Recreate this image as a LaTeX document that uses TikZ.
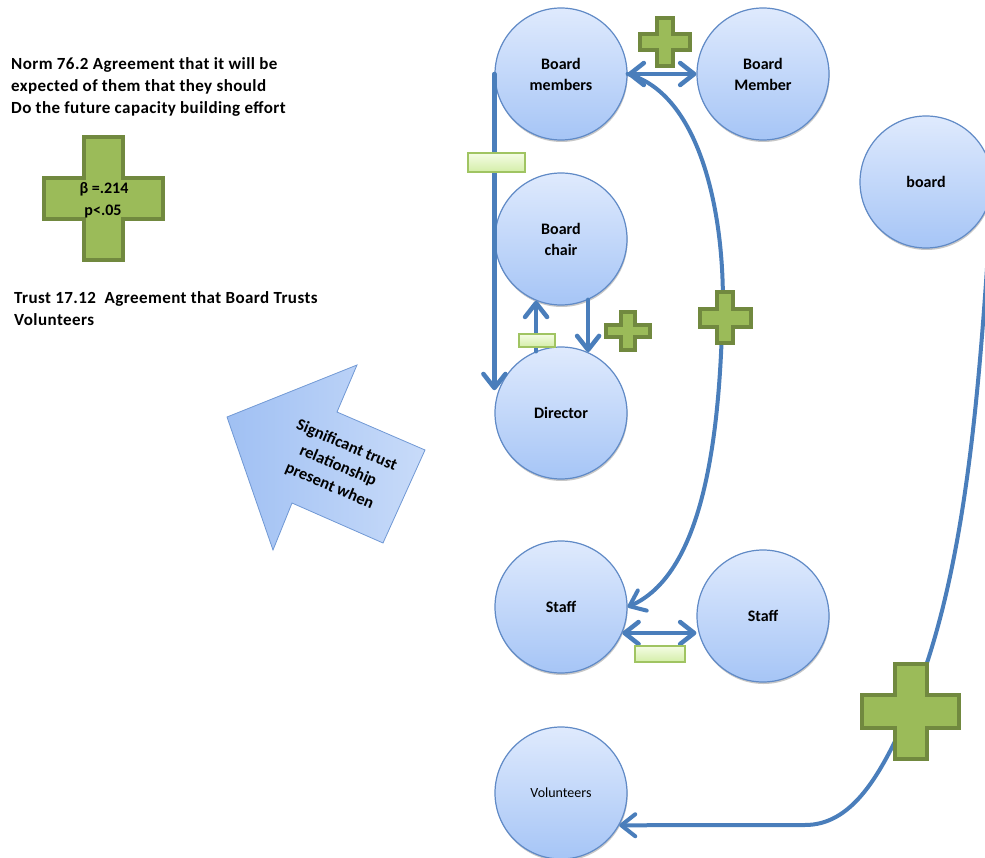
\documentclass[tikz,border=0pt]{standalone}
\usepackage{fontspec}
\setmainfont{Carlito}
\usetikzlibrary{arrows.meta,shadows}

\definecolor{linkblue}{RGB}{74,126,187}
\definecolor{bubtop}{RGB}{223,234,253}
\definecolor{bubbot}{RGB}{166,197,246}
\definecolor{bubedge}{RGB}{96,138,198}
\definecolor{plusfill}{RGB}{155,187,89}
\definecolor{plusedge}{RGB}{113,137,63}
\definecolor{minustop}{RGB}{244,252,228}
\definecolor{minusbot}{RGB}{212,238,168}
\definecolor{minusedge}{RGB}{160,196,98}
\definecolor{bigleft}{RGB}{160,192,243}
\definecolor{bigright}{RGB}{200,219,249}
\definecolor{bigedge}{RGB}{112,152,212}

\tikzset{
  actor/.style={circle, minimum size=132pt, inner sep=0pt, draw=bubedge, line width=1.2pt,
    top color=bubtop, bottom color=bubbot, align=center,
    font=\bfseries\fontsize{16}{21}\selectfont,
    drop shadow={shadow xshift=0.6pt, shadow yshift=-2pt, opacity=0.22, fill=black}},
  link/.style={draw=linkblue, line width=4.5pt, line cap=round},
  tipend/.style={arrows={-Straight Barb[round,length=14pt,width=22pt]}},
  tipboth/.style={arrows={Straight Barb[round,length=14pt,width=22pt]-Straight Barb[round,length=14pt,width=22pt]}},
  minusbox/.style={rectangle, inner sep=0pt, draw=minusedge, line width=1.5pt,
    top color=minustop, bottom color=minusbot},
  plusbody/.style={fill=plusfill, draw=plusedge, line width=4pt, line join=miter},
  pics/plussign/.style 2 args={code={
    \path[plusbody]
      (-0.165*#1,-0.5*#2) -- (0.165*#1,-0.5*#2) -- (0.165*#1,-0.17*#2) -- (0.5*#1,-0.17*#2)
      -- (0.5*#1,0.17*#2) -- (0.165*#1,0.17*#2) -- (0.165*#1,0.5*#2) -- (-0.165*#1,0.5*#2)
      -- (-0.165*#1,0.17*#2) -- (-0.5*#1,0.17*#2) -- (-0.5*#1,-0.17*#2) -- (-0.165*#1,-0.17*#2)
      -- cycle;
  }},
  note/.style={font=\bfseries\fontsize{17}{22}\selectfont\addfontfeatures{LetterSpace=2.5},
    align=left, inner sep=0pt, anchor=base west},
  badge/.style={font=\bfseries\fontsize{16}{18}\selectfont, inner sep=0pt},
}

\begin{document}
\begin{tikzpicture}[x=1pt,y=-1pt]
\useasboundingbox (0,0) rectangle (985,858);
\clip (0,0) rectangle (985,858);

% explanatory notes on the left (base anchor sits on the last line)
\node[note] (norm) at (11,114) {Norm 76.2 Agreement that it will be\\expected of them that they should\\Do the future capacity building effort};
\node[note] (trust) at (14,326) {Trust 17.12\ \ Agreement that Board Trusts\\Volunteers};

% coefficient badge
\pic (coef) at (103.5,198.5) {plussign={119}{123}};
\node[badge] (beta) at (104,189) {β =.214};
\node[badge] (pval) at (103,212) {p<.05};

% large block arrow
\path[left color=bigleft, right color=bigright, draw=bigedge, line width=0.8pt, line join=miter]
  (227,417) -- (357,365) -- (337,412) -- (425,450) -- (383,543) -- (292,503) -- (273,550) -- cycle;
\node[rotate=-23, align=center, font=\bfseries\fontsize{16.5}{22}\selectfont, inner sep=0pt] (sig) at (338,466)
  {Significant trust\\relationship\\present when};

% actors
\node[actor] (bm)    at (561,74)  {Board\\members};
\node[actor] (bm2)   at (763,74)  {Board\\Member};
\node[actor] (chair) at (561,239) {Board\\chair};
\node[actor] (dir)   at (561,413) {Director};
\node[actor] (st1)   at (561,607) {Staff};
\node[actor] (st2)   at (763,616) {Staff};
\node[actor, font=\fontsize{14}{16}\selectfont] (vol) at (561,793) {Volunteers};
\node[actor] (board) at (926,182) {board};

% connectors
\draw[link, tipboth] (bm.east) -- (bm2.west);
\draw[link, tipend] (bm.west) -- (bm.west |- dir.160);
\draw[link, tipend] (chair.-66) -- (dir.66);
\draw[link, tipend] (dir.112) -- (chair.-112);
\draw[link, line width=4pt, tipend] (bm.east) .. controls (705,95) and (728,230) .. (722,330)
  .. controls (718,450) and (700,575) .. (st1.east);
\draw[link, tipboth] (st1.-23) -- (st1.-23 -| st2.west);
\draw[link, line width=4pt, tipend] (board.east) .. controls (980,380) and (968,580) .. (905,720)
  .. controls (878,780) and (850,825) .. (805,825) -- (vol.-29);

% signs on the links
\pic (p1) at (665,42)    {plussign={50}{48}};
\pic (p2) at (628,331)   {plussign={44}{38}};
\pic (p3) at (725,318)   {plussign={51}{51}};
\pic (p4) at (910.5,711.5) {plussign={97}{95}};
\node[minusbox, minimum width=57pt, minimum height=19pt] (m1) at (496.5,162.5) {};
\node[minusbox, minimum width=36pt, minimum height=13pt] (m2) at (537,340.5) {};
\node[minusbox, minimum width=50pt, minimum height=16pt] (m3) at (660,654) {};
\end{tikzpicture}
\end{document}
